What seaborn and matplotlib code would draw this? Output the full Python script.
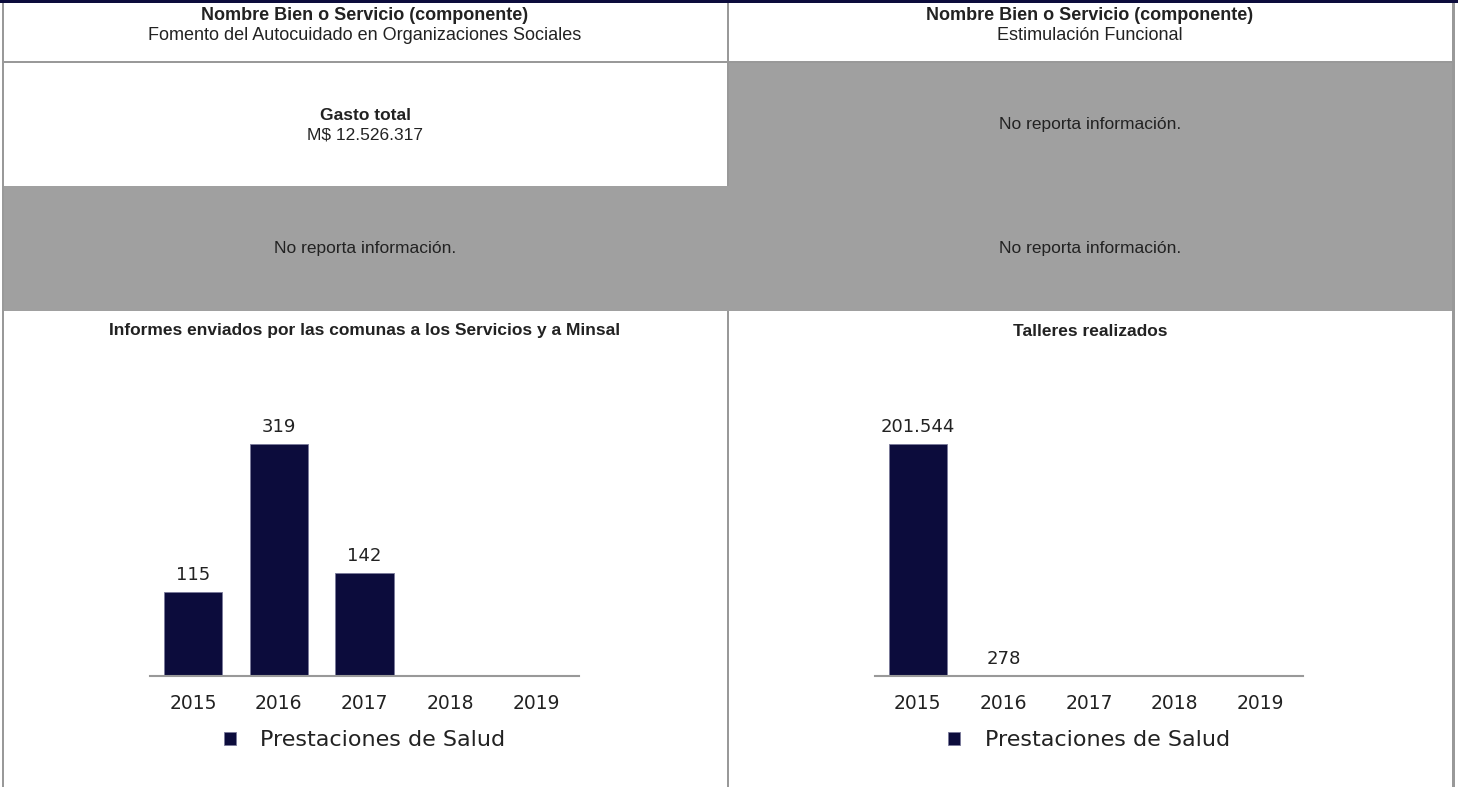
import matplotlib
matplotlib.use("Agg")
import matplotlib.pyplot as plt
import numpy as np
import pandas as pd
import seaborn as sns
from matplotlib.patches import Rectangle

sns.set_theme(style="white")
plt.rcParams['font.family'] = ['DejaVu Sans']

# Data
years = ["2015", "2016", "2017", "2018", "2019"]
serie = "Prestaciones de Salud"

informes_title = "Informes enviados por las comunas a los Servicios y a Minsal"
informes_values = [115, 319, 142, np.nan, np.nan]

talleres_title = "Talleres realizados"
talleres_values = [201544, 278, np.nan, np.nan, np.nan]

header_label = "Nombre Bien o Servicio (componente)"
left_component = "Fomento del Autocuidado en Organizaciones Sociales"
right_component = "Estimulación Funcional"
gasto_label = "Gasto total"
gasto_value = "M$ 12.526.317"
no_info = "No reporta información."

W, H = 1458, 787
NAVY = "#0c0c3c"
GRAY = "#a0a0a0"
LINE = "#999999"
TXT = "#222222"
TABLE_FONT = ["Liberation Sans", "DejaVu Sans"]

fig = plt.figure(figsize=(W / 100, H / 100), dpi=100)


def px_rect(x0, y0, x1, y1, color):
    # rectangle in pixel coords measured from the top-left corner
    fig.patches.append(Rectangle((x0 / W, 1 - y1 / H), (x1 - x0) / W, (y1 - y0) / H,
                                 transform=fig.transFigure, color=color, lw=0, zorder=0))


def px_text(x, y, s, bold=False, size=12.5):
    fig.text(x / W, 1 - y / H, s, ha="center", va="center", fontsize=size,
             fontweight="bold" if bold else "normal", color=TXT, family=TABLE_FONT)


# table cells
px_rect(728, 62, 1453, 186, GRAY)
px_rect(3, 186, 1453, 311, GRAY)
# borders
px_rect(0, 0, W, 3, NAVY)
px_rect(2, 3, 4, H, LINE)
px_rect(1452, 3, 1455, H, LINE)
px_rect(727, 3, 729, 186, LINE)
px_rect(727, 311, 729, H, LINE)
px_rect(3, 61, 1453, 63, LINE)

cx_left, cx_right = 365, 1090
for cx, comp in [(cx_left, left_component), (cx_right, right_component)]:
    px_text(cx, 15, header_label, bold=True, size=13)
    px_text(cx, 35, comp, size=13)
px_text(cx_left, 116, gasto_label, bold=True)
px_text(cx_left, 135, gasto_value)
px_text(cx_right, 124, no_info)
px_text(cx_left, 248, no_info)
px_text(cx_right, 248, no_info)
px_text(cx_left, 331, informes_title, bold=True)
px_text(cx_right, 331, talleres_title, bold=True)


def bar_chart(x0, x1, values):
    top, base = 400, 676
    ax = fig.add_axes([x0 / W, 1 - base / H, (x1 - x0) / W, (base - top) / H])
    df = pd.DataFrame({"year": years, "value": values, "serie": serie})
    sns.barplot(data=df, x="year", y="value", hue="serie", palette=[NAVY],
                saturation=1, width=0.68, edgecolor="#7a7a9a", linewidth=0.6, ax=ax)
    vmax = np.nanmax(values)
    ax.set_ylim(0, vmax * (base - top) / 232)
    ax.set_xlim(-0.5, len(years) - 0.5)
    for i, v in enumerate(values):
        if not np.isnan(v):
            ax.text(i, v + vmax * 8 / 232, f"{v:,.0f}".replace(",", "."),
                    ha="center", va="bottom", fontsize=13, color=TXT)
    ax.set_xlabel("")
    ax.set_ylabel("")
    ax.set_yticks([])
    for side in ["left", "right", "top"]:
        ax.spines[side].set_visible(False)
    ax.spines["bottom"].set_color(LINE)
    ax.spines["bottom"].set_linewidth(1.5)
    ax.tick_params(axis="x", length=0, pad=13, labelsize=13.5, labelcolor=TXT)
    ax.set_facecolor("none")
    ax.legend(loc="upper center", bbox_to_anchor=(0.5, -0.125), frameon=False,
              fontsize=16, handlelength=0.55, handleheight=0.55, handletextpad=1.1,
              labelcolor=TXT)
    return ax


bar_chart(150, 579, informes_values)
bar_chart(875, 1303, talleres_values)

fig.savefig("out.png", dpi=100)
